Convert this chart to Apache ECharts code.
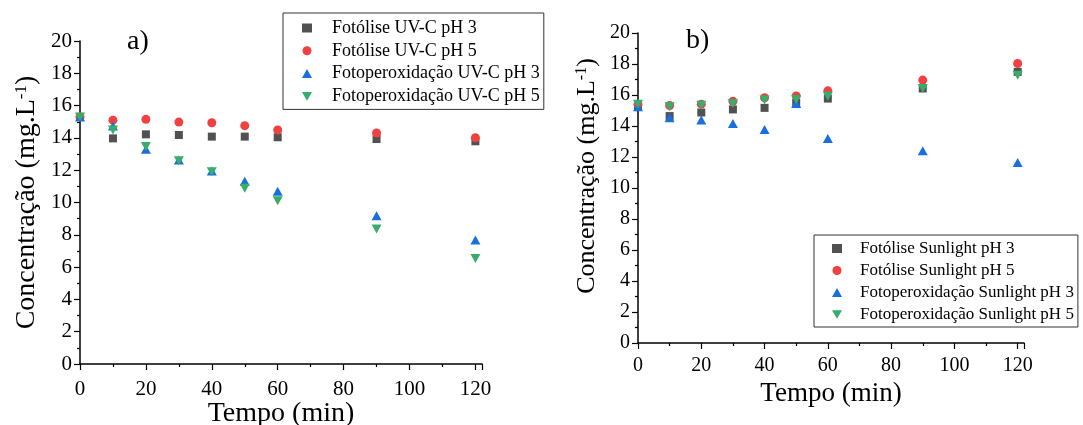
<!DOCTYPE html>
<html>
<head>
<meta charset="utf-8">
<script src="https://cdn.jsdelivr.net/npm/echarts@6/dist/echarts.min.js"></script>
<style>
html,body{margin:0;padding:0;background:#fff;}
#c{width:1083px;height:425px;}
</style>
</head>
<body>
<div id="c"></div>
<script>
// ---- data ----
var time = [0, 10, 20, 30, 40, 50, 60, 90, 120];
var xTicks = [0, 20, 40, 60, 80, 100, 120];
var yTicks = [0, 2, 4, 6, 8, 10, 12, 14, 16, 18, 20];

var uvFot3 = [15.3, 13.97, 14.22, 14.18, 14.08, 14.08, 14.04, 13.93, 13.79];
var uvFot5 = [15.3, 15.10, 15.15, 14.98, 14.94, 14.76, 14.49, 14.30, 14.01];
var uvPer3 = [15.3, 14.74, 13.29, 12.63, 11.95, 11.31, 10.69, 9.18, 7.68];
var uvPer5 = [15.3, 14.49, 13.46, 12.59, 11.91, 10.88, 10.11, 8.36, 6.54];

var sunFot3 = [15.3, 14.64, 14.87, 15.07, 15.17, 15.50, 15.77, 16.42, 17.49];
var sunFot5 = [15.39, 15.32, 15.41, 15.60, 15.82, 15.94, 16.27, 16.96, 18.03];
var sunPer3 = [15.24, 14.53, 14.38, 14.16, 13.78, 15.45, 13.20, 12.40, 11.65];
var sunPer5 = [15.40, 15.24, 15.34, 15.45, 15.67, 15.71, 15.92, 16.42, 17.28];

var uvNames = ['Fotólise UV-C pH 3', 'Fotólise UV-C pH 5', 'Fotoperoxidação UV-C pH 3', 'Fotoperoxidação UV-C pH 5'];
var sunNames = ['Fotólise Sunlight pH 3', 'Fotólise Sunlight pH 5', 'Fotoperoxidação Sunlight pH 3', 'Fotoperoxidação Sunlight pH 5'];

// ---- style ----
var FONT = '"Liberation Serif", "Times New Roman", serif';
var colors = ['#515151', '#F14040', '#1A6FDF', '#37AD6B'];
var symbols = ['rect', 'circle', 'triangle', 'path://M0,0 L10,0 L5,8.66 Z'];
var sizes = [8, 9, [10, 9], [10, 9]];

function zip(xs, ys) { return xs.map(function (x, i) { return [x, ys[i]]; }); }

function makeX(idx, fs, gap, nfs, margin) {
  return {
    type: 'value', gridIndex: idx, min: 0, max: 122, interval: 20,
    name: 'Tempo (min)', nameLocation: 'middle', nameGap: gap, nameMoveOverlap: false,
    nameTextStyle: { fontFamily: FONT, fontSize: nfs, color: '#000' },
    axisLine: { show: true, lineStyle: { color: '#000', width: 1.5 } },
    axisTick: { show: true, inside: false, length: 6, lineStyle: { color: '#000', width: 1.2 } },
    minorTick: { show: true, splitNumber: 2, length: 3, lineStyle: { color: '#000', width: 1.2 } },
    axisLabel: { fontFamily: FONT, fontSize: fs, color: '#000', margin: margin,
      formatter: function (v) { return xTicks.indexOf(v) >= 0 ? String(v) : ''; } },
    splitLine: { show: false }
  };
}
function makeY(idx, fs, gap, nfs, shift) {
  return {
    type: 'value', gridIndex: idx, min: 0, max: 20, interval: 2,
    name: '{a|Concentração (mg.L}{s|-1}{a|)}', nameLocation: 'middle', nameGap: gap, nameMoveOverlap: false,
    nameTextStyle: { padding: [0, 0, 0, shift], rich: {
      a: { fontFamily: FONT, fontSize: nfs, lineHeight: nfs, color: '#000' },
      s: { fontFamily: FONT, fontSize: Math.round(nfs * 0.6), lineHeight: Math.round(nfs * 0.6), color: '#000', verticalAlign: 'top' }
    } },
    axisLine: { show: true, onZero: false, lineStyle: { color: '#000', width: 1.5 } },
    axisTick: { show: true, inside: false, length: 6, lineStyle: { color: '#000', width: 1.2 } },
    minorTick: { show: true, splitNumber: 2, length: 3, lineStyle: { color: '#000', width: 1.2 } },
    axisLabel: { fontFamily: FONT, fontSize: fs, color: '#000', margin: 8,
      formatter: function (v) { return yTicks.indexOf(v) >= 0 ? String(v) : ''; } },
    splitLine: { show: false }
  };
}

var uvData = [uvFot3, uvFot5, uvPer3, uvPer5];
var sunData = [sunFot3, sunFot5, sunPer3, sunPer5];
var series = [];
[0, 1].forEach(function (g) {
  var names = g === 0 ? uvNames : sunNames;
  var data = g === 0 ? uvData : sunData;
  for (var i = 0; i < 4; i++) {
    series.push({
      type: 'scatter', name: names[i], xAxisIndex: g, yAxisIndex: g,
      data: zip(time, data[i]), symbol: symbols[i], symbolSize: sizes[i],
      itemStyle: { color: colors[i], opacity: 1 }, clip: false, z: 2 + i
    });
  }
});

function makeLegend(names, left, top, fs, gap, pad, textPad) {
  return {
    data: names.map(function (n, i) { return { name: n, icon: symbols[i] }; }),
    orient: 'vertical', left: left, top: top,
    itemWidth: 10, itemHeight: 9, itemGap: gap,
    padding: pad, borderColor: '#333', borderWidth: 1, backgroundColor: '#fff',
    selectedMode: false,
    textStyle: { fontFamily: FONT, fontSize: fs, lineHeight: 16, color: '#000', padding: [0, 0, 0, textPad] }
  };
}

var chart = echarts.init(document.getElementById('c'), null, { renderer: 'canvas' });
chart.setOption({
  backgroundColor: '#fff',
  animation: false,
  color: colors,
  textStyle: { fontFamily: FONT },
  grid: [
    { left: 80, right: 1083 - 482, top: 41, bottom: 425 - 364, containLabel: false, outerBoundsMode: 'none' },
    { left: 638, right: 1083 - 1024, top: 33, bottom: 425 - 343, containLabel: false, outerBoundsMode: 'none' }
  ],
  xAxis: [makeX(0, 21, 36, 28, 15), makeX(1, 20, 37, 27, 13)],
  yAxis: [makeY(0, 21, 39, 28, 0), makeY(1, 20, 38, 26, 24)],
  legend: [
    makeLegend(uvNames, 283, 13, 18, 4.8, [6, 4, 4, 19], 15),
    makeLegend(sunNames, 814, 235, 17, 5, [5, 4, 4, 18], 13)
  ],
  graphic: [
    { type: 'text', left: 127, top: 28, style: { text: 'a)', fontFamily: FONT, fontSize: 28, fill: '#000' } },
    { type: 'text', left: 686, top: 27, style: { text: 'b)', fontFamily: FONT, fontSize: 28, fill: '#000' } }
  ],
  series: series
});
</script>
</body>
</html>
